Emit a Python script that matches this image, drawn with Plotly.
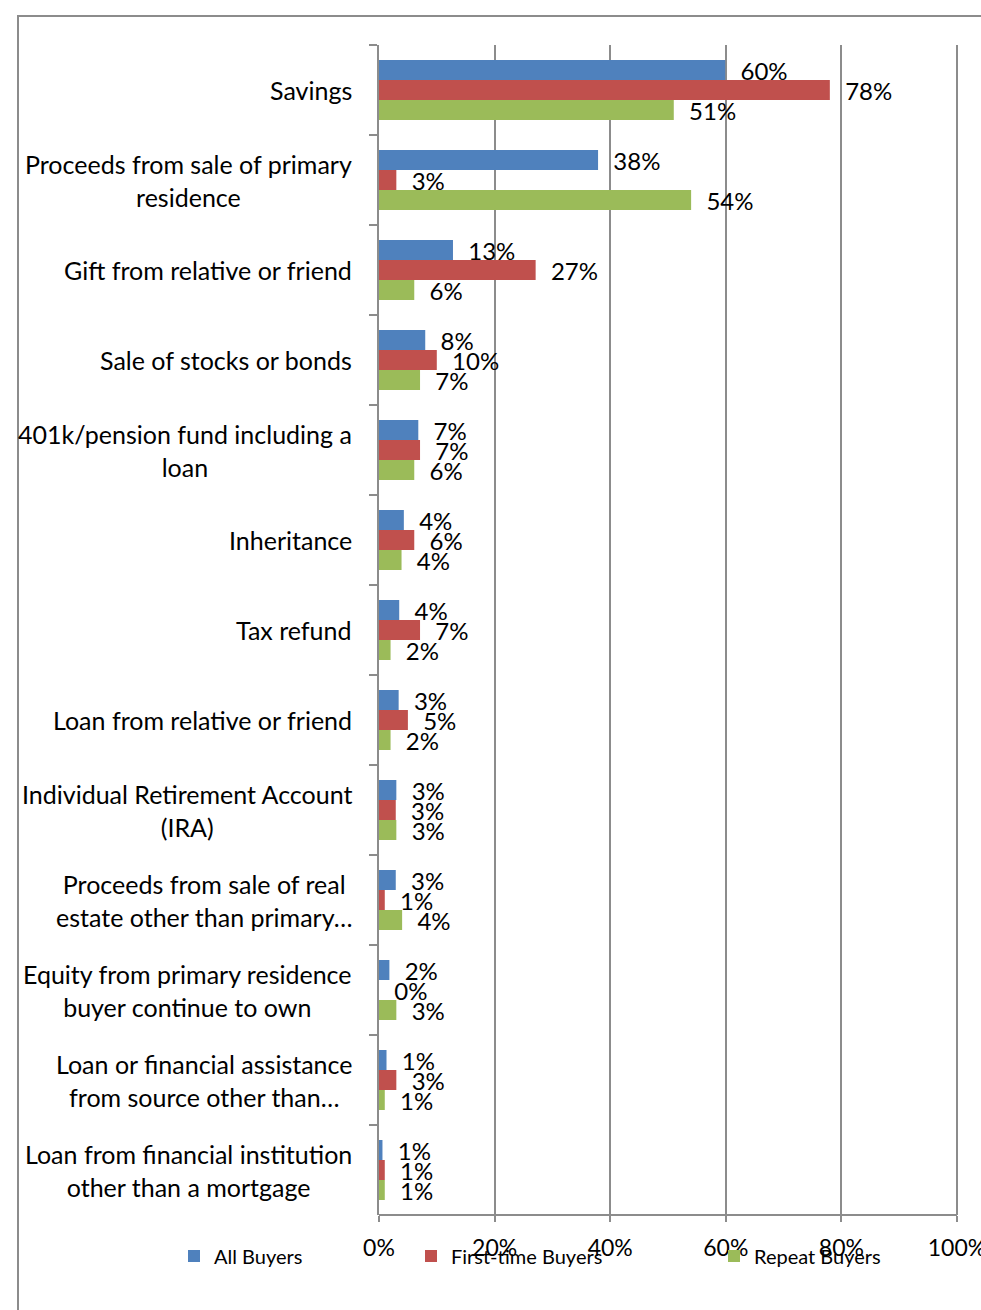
import plotly.graph_objects as go

categories = [
    "Savings",
    "Proceeds from sale of primary<br>residence",
    "Gift from relative or friend",
    "Sale of stocks or bonds",
    "401k/pension fund including a<br>loan",
    "Inheritance",
    "Tax refund",
    "Loan from relative or friend",
    "Individual Retirement Account<br>(IRA)",
    "Proceeds from sale of real<br>estate other than primary…",
    "Equity from primary residence<br>buyer continue to own",
    "Loan or financial assistance<br>from source other than…",
    "Loan from financial institution<br>other than a mortgage",
]

all_buyers = [59.9, 37.9, 12.8, 8.0, 6.8, 4.3, 3.5, 3.4, 3.0, 2.9, 1.8, 1.3, 0.6]
first_time = [78.0, 3.0, 27.1, 10.0, 7.1, 6.1, 7.1, 5.0, 2.9, 1.0, 0.0, 3.0, 1.0]
repeat = [51.0, 54.0, 6.1, 7.1, 6.1, 3.9, 2.0, 2.0, 3.0, 4.0, 3.0, 1.0, 1.0]

series_names = ["All Buyers", "First-time Buyers", "Repeat Buyers"]
series_values = [all_buyers, first_time, repeat]
colors = ["#4F81BD", "#C0504D", "#9BBB59"]
x_ticks = [0, 20, 40, 60, 80, 100]
x_tick_labels = ["0%", "20%", "40%", "60%", "80%", "100%"]

FONT = "Lato"
W, H = 981, 1310
ML, MR, MT, MB = 379, 22, 45, 95
pw, ph = W - ML - MR, H - MT - MB
X_MAX = 100 * pw / 578.0  # 100% lands at pixel 957, leaving room for its grid line

fig = go.Figure()
legend_ids = ["legend", "legend2", "legend3"]
for name, vals, col, lg in zip(series_names, series_values, colors, legend_ids):
    fig.add_trace(go.Bar(
        y=categories, x=vals, name=name, orientation="h",
        marker=dict(color=col, line=dict(width=0)),
        texttemplate="\u00a0\u00a0%{x:.0f}%", textposition="outside",
        textfont=dict(family=FONT, size=24, color="#000000"),
        constraintext="none", cliponaxis=False, legend=lg,
    ))

def px_to_paper_x(px):
    return (px - ML) / pw

def px_to_paper_y(py):
    return (H - MB - py) / ph

# category labels (centered multi-line, right-aligned block like the original)
for cat in categories:
    fig.add_annotation(
        x=px_to_paper_x(354), xref="paper", y=cat, yref="y",
        text=cat, showarrow=False, xanchor="right", yanchor="middle",
        align="center", font=dict(family=FONT, size=25, color="#000000"),
    )

legend_pos = [174, 411, 714]
leg_common = dict(orientation="h", yanchor="middle", xanchor="left",
                  font=dict(family=FONT, size=20, color="#000000"),
                  bgcolor="rgba(0,0,0,0)", itemwidth=30)
fig.update_layout(
    legend=dict(x=px_to_paper_x(legend_pos[0]), y=px_to_paper_y(1256), **leg_common),
    legend2=dict(x=px_to_paper_x(legend_pos[1]), y=px_to_paper_y(1256), **leg_common),
    legend3=dict(x=px_to_paper_x(legend_pos[2]), y=px_to_paper_y(1256), **leg_common),
)

fig.update_layout(
    width=W, height=H,
    margin=dict(l=ML, r=MR, t=MT, b=MB, pad=0, autoexpand=False),
    paper_bgcolor="white", plot_bgcolor="white",
    barmode="group", bargap=1/3, bargroupgap=0,
    showlegend=True,
    font=dict(family=FONT, size=24, color="#000000"),
    xaxis=dict(
        range=[0, X_MAX], tickmode="array", tickvals=x_ticks, ticktext=x_tick_labels,
        showgrid=True, gridcolor="#8C8C8C", gridwidth=2,
        showline=False,
        ticks="outside", ticklen=6, tickcolor="#8C8C8C", tickwidth=2,
        zeroline=False, ticklabelstandoff=6, automargin=False,
        ticklabeloverflow="allow",
        tickfont=dict(family=FONT, size=23, color="#000000"),
    ),
    yaxis=dict(
        autorange="reversed", type="category", tickson="boundaries",
        showline=True, linecolor="#8C8C8C", linewidth=2,
        ticks="outside", ticklen=8, tickcolor="#8C8C8C", tickwidth=2,
        showgrid=False, showticklabels=False, automargin=False,
    ),
)

# x axis baseline from 0% to 100%
fig.add_shape(type="line", xref="x", yref="paper", x0=0, x1=100, y0=0, y1=0,
              line=dict(color="#8C8C8C", width=2), layer="above")

# outer chart frame
fig.add_shape(type="rect", xref="paper", yref="paper",
              x0=px_to_paper_x(18), x1=px_to_paper_x(W + 10),
              y0=px_to_paper_y(H + 10), y1=px_to_paper_y(16),
              line=dict(color="#8C8C8C", width=2), fillcolor="rgba(0,0,0,0)", layer="below")

fig.write_html("out.html", config={"displayModeBar": False},
               post_script="document.body.style.margin='0';document.body.style.overflow='hidden';")
